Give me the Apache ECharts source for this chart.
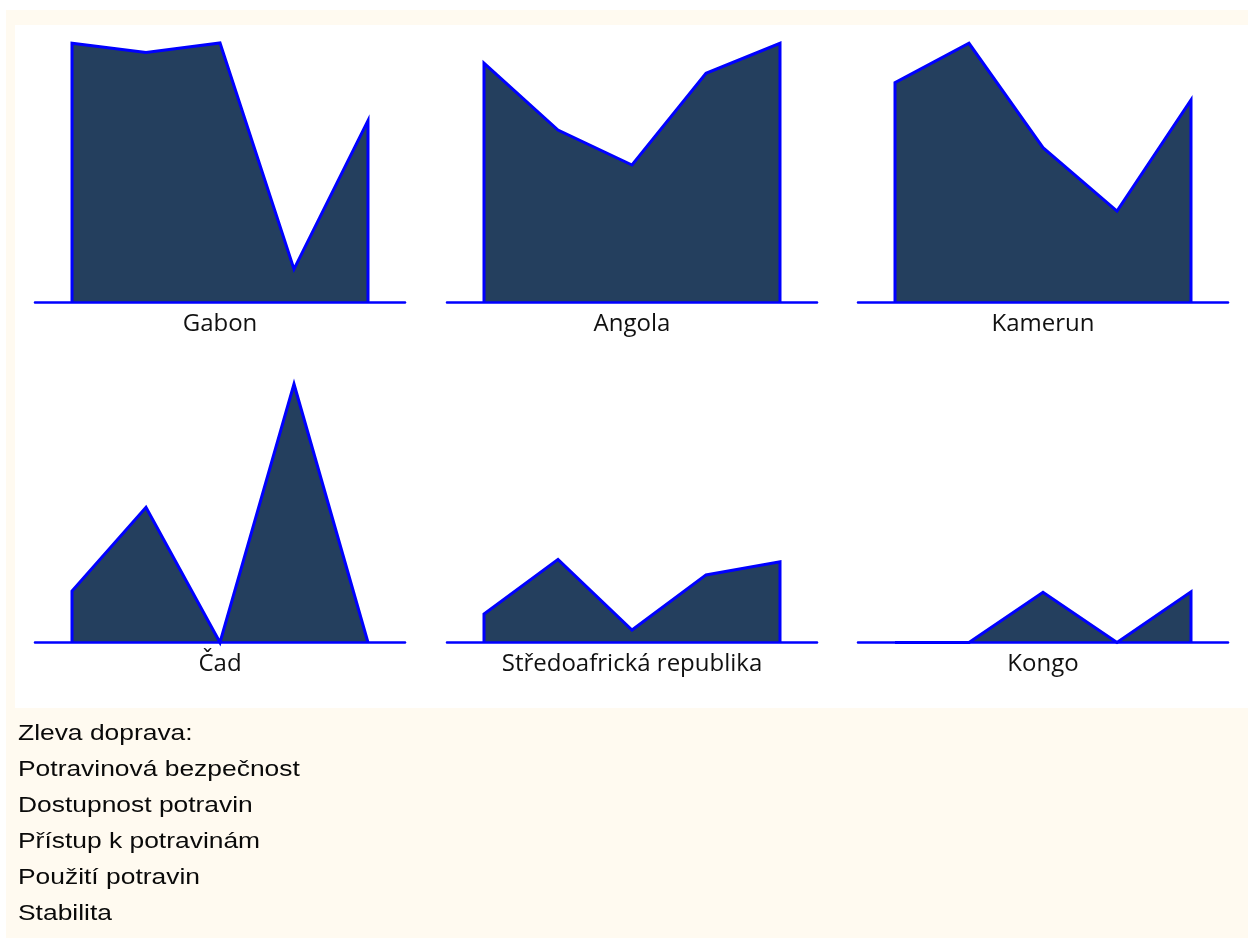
<!DOCTYPE html>
<html>
<head>
<meta charset="utf-8">
<script src="https://cdn.jsdelivr.net/npm/echarts@6/dist/echarts.min.js"></script>
<style>
  html, body { margin: 0; padding: 0; background: #ffffff; }
  #cream { position: absolute; left: 6px; top: 10px; width: 1242px; height: 928px; background: #fffaf0; }
  #panel { position: absolute; left: 15px; top: 25px; width: 1233px; height: 683px; background: #ffffff; }
  #chart { position: absolute; left: 0; top: 0; width: 1248px; height: 940px; }
</style>
</head>
<body>
<div id="cream"></div>
<div id="panel"></div>
<div id="chart"></div>
<script>
// Indicators (left to right in each panel)
const indicators = ["Potravinová bezpečnost", "Dostupnost potravin", "Přístup k potravinám", "Použití potravin", "Stabilita"];
const countries = ["Gabon", "Angola", "Kamerun", "Čad", "Středoafrická republika", "Kongo"];

// Values (relative score, 0–100)
const gabon = [99.9, 96.3, 100, 12.7, 70.0];
const angola = [92.2, 66.4, 52.9, 88.3, 99.9];
const kamerun = [84.7, 99.9, 59.6, 35.1, 78.0];
const cad = [19.9, 52.2, 0, 99.8, 0];
const stredoafricka = [11.0, 32.1, 4.8, 26.1, 31.2];
const kongo = [0, 0, 19.4, 0, 19.6];

const legendTitle = "Zleva doprava:";

const seriesValues = [gabon, angola, kamerun, cad, stredoafricka, kongo];

const colLeft = [35, 447, 858];
const rowTop = [43, 383.5];
const gridW = 370, gridH = 259;

const grids = [], xAxes = [], yAxes = [], series = [];
countries.forEach((name, i) => {
  const col = i % 3, row = Math.floor(i / 3);
  grids.push({ left: colLeft[col], top: rowTop[row], width: gridW, height: gridH, containLabel: false });
  xAxes.push({
    type: 'value', gridIndex: i, min: -0.5, max: indicators.length - 0.5,
    z: 5,
    axisLine: { show: true, onZero: true, lineStyle: { color: '#0000ff', width: 2.5 } },
    axisTick: { show: false }, axisLabel: { show: false }, splitLine: { show: false },
    name: name, nameLocation: 'middle', nameGap: 10,
    nameTextStyle: { fontFamily: 'Open Sans', fontSize: 24, color: '#111111' }
  });
  yAxes.push({ type: 'value', gridIndex: i, min: 0, max: 100, show: false });
  const vals = seriesValues[i];
  const data = [[0, 0]].concat(vals.map((v, k) => [k, v])).concat([[vals.length - 1, 0]]);
  series.push({
    type: 'line', name: name, xAxisIndex: i, yAxisIndex: i, data: data,
    symbol: 'none', clip: false, z: 2,
    lineStyle: { color: '#0000ff', width: 3, join: 'miter' },
    areaStyle: { color: '#243f5e', opacity: 1 }
  });
});

const textLines = [legendTitle].concat(indicators);
const graphics = textLines.map((t, k) => ({
  type: 'text', x: 18, y: 734 + k * 36, scaleX: 1.2, scaleY: 1,
  style: { text: t, x: 0, y: 0, fontFamily: 'Liberation Sans', fontSize: 22, fill: '#0a0a0a', textVerticalAlign: 'middle', verticalAlign: 'middle' }
}));

const chart = echarts.init(document.getElementById('chart'), null, { renderer: 'canvas' });
chart.setOption({
  animation: false,
  backgroundColor: 'transparent',
  grid: grids, xAxis: xAxes, yAxis: yAxes, series: series,
  graphic: graphics
});
</script>
</body>
</html>
